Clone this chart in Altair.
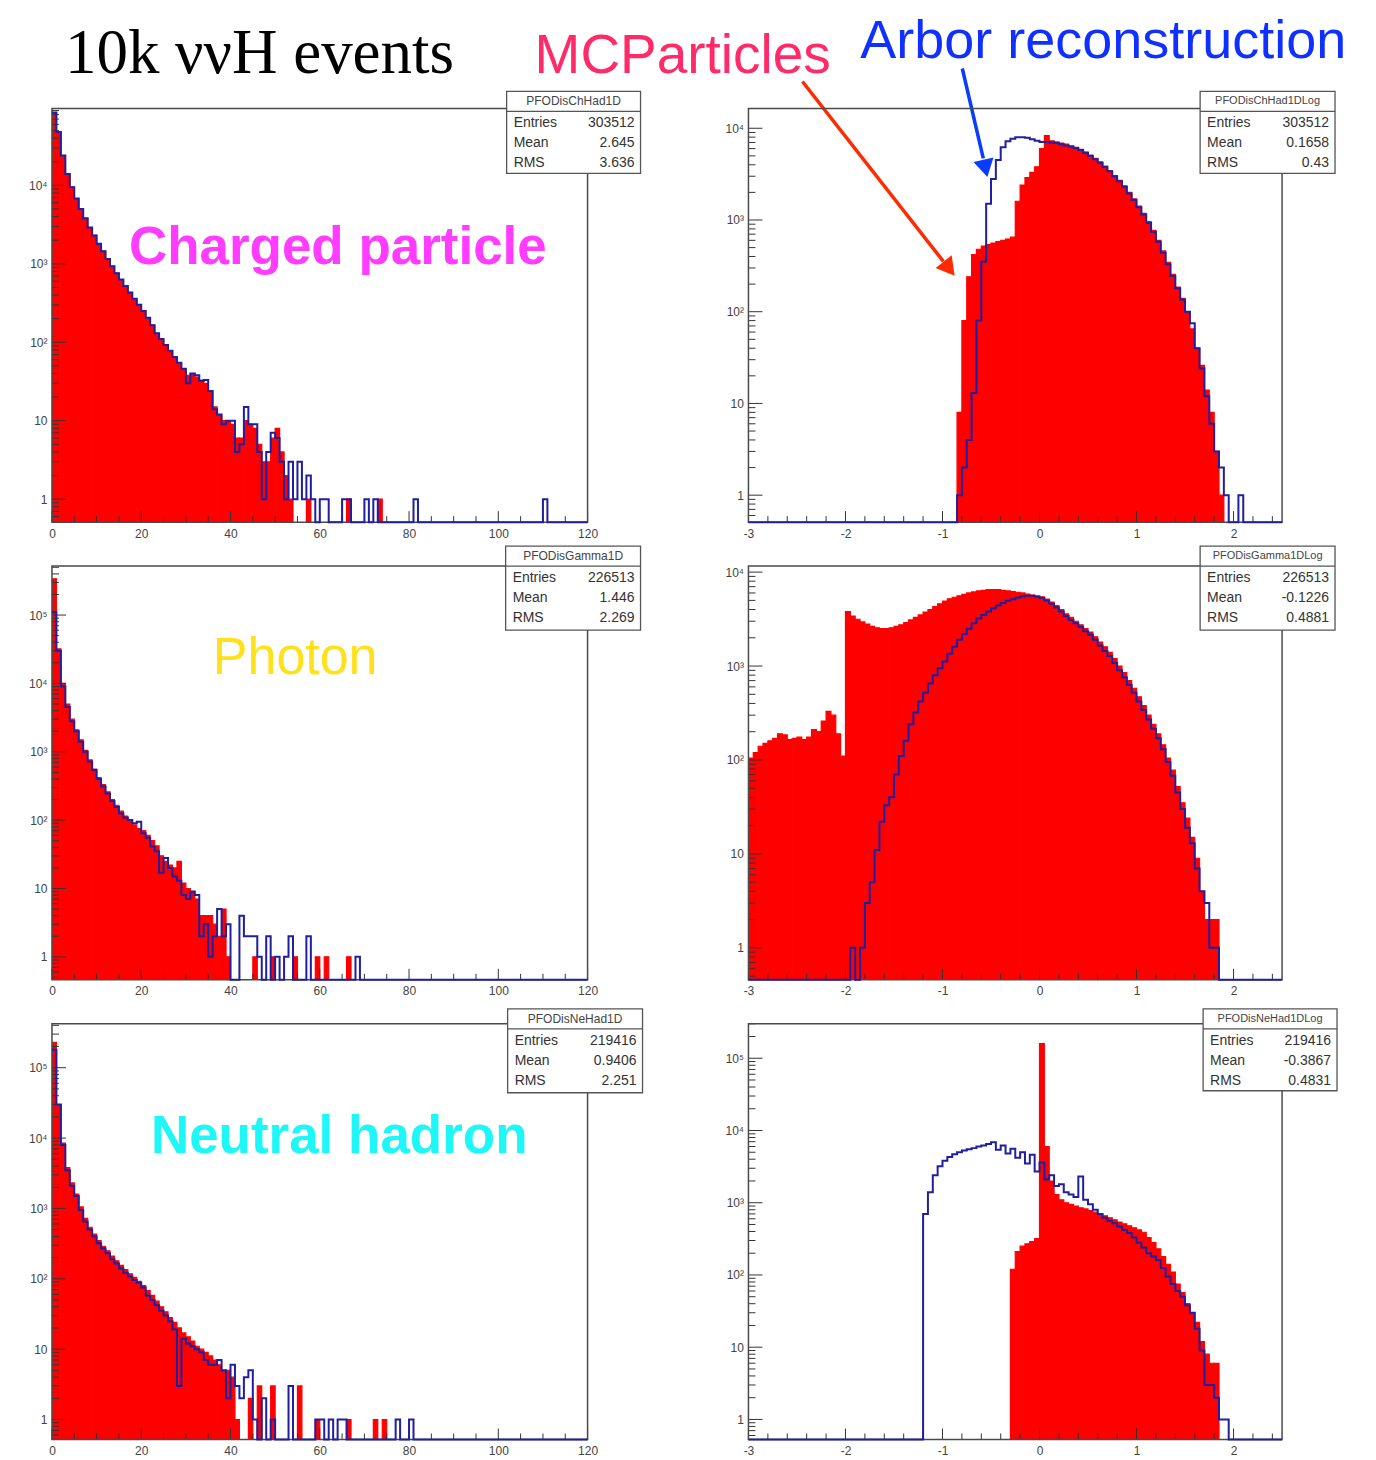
import altair as alt
import pandas as pd

# ---------------------------------------------------------------- data
# Linear-distance histograms: bin width 1, first bin starts at 0
lin_width = 1.0
log_width = 0.05

# Charged particle, linear (0..120)
ch_lin_reco = [85000, 48000, 24000, 14000, 9500, 6800, 5000, 3800, 2900, 2300,
               1800, 1450, 1150, 930, 760, 630, 520, 430, 360, 300,
               250, 205, 165, 130, 110, 92, 78, 65, 55, 46,
               30, 40, 38, 32, 33, 24, 14, 12, 9, 10,
               10, 4, 5, 15, 9, 9, 4, 1, 4, 7,
               6, 3, 1, 3, 1, 3, 1, 2, 1, 0,
               1, 1, 0, 0, 0, 1, 1, 0, 0, 0,
               1, 0, 1, 0, 0, 0, 0, 0, 0, 0,
               0, 1, 0, 0, 0, 0, 0, 0, 0, 0,
               0, 0, 0, 0, 0, 0, 0, 0, 0, 0,
               0, 0, 0, 0, 0, 0, 0, 0, 0, 0,
               1]
ch_lin_mc = [85000, 48000, 24000, 14000, 9500, 6800, 5000, 3800, 2900, 2300,
             1800, 1450, 1150, 930, 760, 630, 520, 430, 360, 300,
             250, 205, 165, 130, 110, 92, 78, 65, 55, 46,
             38, 40, 36, 33, 30, 24, 15, 12, 10, 10,
             9, 6, 6, 10, 9, 8, 5, 3, 3, 6,
             8, 4, 2, 1, 0, 0, 0, 1, 0, 0,
             0, 0, 0, 0, 0, 0, 1, 0, 0, 0,
             0, 0, 0, 1]

# Charged particle, log10 distance (first bin starts at -0.90)
ch_log_start = -0.90
ch_log_reco = [0, 1, 2, 4, 13, 80, 350, 1500, 2800, 4500,
               6200, 7200, 7700, 8000, 8000, 7900, 7600, 7300, 7100, 7100,
               7000, 6900, 6700, 6500, 6300, 6100, 5800, 5400, 5000, 4600,
               4200, 3800, 3400, 3000, 2650, 2300, 1950, 1650, 1380, 1150,
               930, 740, 580, 440, 330, 245, 180, 135, 100, 75,
               40, 24, 12, 6, 3, 2, 1, 0, 0, 1]
ch_log_mc = [0, 8, 80, 240, 420, 480, 520, 540, 560, 580,
             600, 620, 650, 1600, 2400, 2900, 3300, 3800, 6000, 8300,
             7300, 7100, 6900, 6700, 6450, 6200, 5900, 5500, 5100, 4700,
             4300, 3850, 3450, 3050, 2700, 2350, 2000, 1700, 1420, 1180,
             960, 770, 600, 460, 345, 255, 185, 140, 100, 65,
             40, 26, 14, 8, 3, 1, 0, 0, 0, 0]

# Photon, linear
ga_lin_reco = [110000, 30000, 9000, 4500, 2800, 2000, 1400, 1000, 720, 540,
               400, 310, 245, 190, 155, 125, 108, 100, 90, 95,
               64, 55, 41, 35, 17, 28, 20, 15, 13, 8,
               7, 9, 8, 2, 3, 1, 2, 5, 2, 3,
               0, 0, 4, 2, 2, 2, 1, 0, 2, 0,
               1, 0, 1, 2, 0, 0, 0, 2, 0, 0,
               0, 0, 0, 0, 0, 0, 0, 0, 1]
ga_lin_mc = [340000, 32000, 10000, 5000, 3000, 2100, 1500, 1050, 760, 560,
             420, 330, 260, 200, 165, 135, 115, 100, 85, 75,
             70, 60, 50, 42, 30, 25, 22, 20, 25, 12,
             10, 9, 7, 4, 4, 4, 3, 2, 5, 1,
             0, 0, 0, 0, 0, 1, 0, 0, 0, 1,
             0, 0, 0, 0, 1, 0, 0, 0, 0, 1,
             0, 1, 0, 0, 0, 0, 1]

# Photon, log10 distance
ga_log_mc_start = -3.00
ga_log_mc = [105, 120, 140, 150, 160, 170, 190, 185, 165, 170,
             175, 165, 175, 210, 200, 260, 330, 300, 190, 110,
             3800, 3400, 3150, 2950, 2800, 2650, 2550, 2500, 2500, 2550,
             2650, 2750, 2900, 3100, 3300, 3500, 3750, 4000, 4300, 4600,
             4900, 5200, 5400, 5600, 5800, 6000, 6150, 6300, 6400, 6500,
             6500, 6500, 6400, 6300, 6200, 6100, 6000, 5850, 5700, 5550,
             5450, 5150, 4800, 4400, 4000, 3600, 3300, 3000, 2750, 2500,
             2300, 2050, 1800, 1600, 1400, 1200, 1000, 850, 700, 580,
             470, 380, 300, 240, 190, 145, 105, 78, 52, 35,
             24, 15, 9, 4, 2, 2, 2]
ga_log_reco_start = -1.95
ga_log_reco = [1, 0, 1, 3, 5, 11, 22, 33, 40, 70,
               110, 160, 240, 320, 420, 520, 650, 800, 950, 1120,
               1350, 1600, 1900, 2200, 2500, 2850, 3200, 3500, 3800, 4100,
               4400, 4700, 4950, 5150, 5350, 5500, 5600, 5600, 5500,
               5300, 5000, 4600, 4200, 3800, 3400, 3100, 2850, 2600, 2350,
               2150, 1900, 1650, 1450, 1280, 1080, 900, 760, 630, 520,
               420, 340, 270, 215, 170, 130, 95, 68, 45, 30,
               19, 13, 7, 4, 3, 1, 1]

# Neutral hadron, linear
nh_lin_reco = [180000, 30000, 8000, 3500, 2100, 1500, 950, 650, 500, 400,
               320, 270, 230, 190, 165, 140, 122, 108, 96, 88,
               75, 58, 50, 42, 35, 30, 25, 19, 3, 14,
               12, 11, 10, 9, 7, 6, 6, 7, 5, 2,
               6, 3, 2, 4, 5, 1, 0, 2, 0, 1,
               0, 0, 0, 3, 0, 0, 0, 0, 0, 1,
               1, 0, 1, 0, 1, 1, 0, 0, 0, 0,
               0, 0, 0, 0, 0, 0, 0, 1, 0, 0,
               1]
nh_lin_mc = [230000, 30000, 8500, 3800, 2300, 1600, 1050, 720, 540, 430,
             350, 290, 250, 210, 180, 155, 135, 118, 105, 92,
             80, 68, 58, 48, 40, 34, 28, 24, 20, 17,
             15, 13, 11, 10, 9, 8, 7, 6, 5, 5,
             4, 1, 0, 0, 2, 0, 3, 0, 0, 3,
             0, 0, 0, 0, 0, 3, 0, 0, 0, 1,
             0, 0, 0, 0, 0, 0, 1, 0, 0, 0,
             0, 0, 1, 0, 1]

# Neutral hadron, log10 distance
nh_log_reco_start = -1.25
nh_log_reco = [0, 700, 1400, 2400, 3200, 3800, 4300, 4700, 5000, 5300,
               5500, 5700, 6000, 6200, 6500, 6900, 5400, 6200, 4800, 5600,
               4200, 5000, 3500, 4600, 2700, 3600, 2100, 2400, 1700, 1800,
               1400, 1300, 1200, 2300, 1100, 950, 800, 700, 620, 560,
               520, 470, 420, 380, 330, 280, 240, 200, 180, 160,
               125, 95, 75, 60, 50, 38, 30, 18, 9, 3,
               3, 2, 1, 1]
nh_log_mc_start = -0.35
nh_log_mc = [0, 120, 210, 250, 270, 290, 320, 160000, 6000, 2000,
             1300, 1100, 1000, 950, 900, 850, 820, 780, 740, 700,
             660, 620, 580, 540, 510, 480, 450, 420, 390, 330,
             280, 230, 180, 140, 110, 75, 57, 40, 30, 22,
             12, 8, 6, 6]

# Stats boxes
stat_names = ["PFODisChHad1D", "PFODisChHad1DLog", "PFODisGamma1D",
              "PFODisGamma1DLog", "PFODisNeHad1D", "PFODisNeHad1DLog"]
stat_entries = ["303512", "303512", "226513", "226513", "219416", "219416"]
stat_mean = ["2.645", "0.1658", "1.446", "-0.1226", "0.9406", "-0.3867"]
stat_rms = ["3.636", "0.43", "2.269", "0.4881", "2.251", "0.4831"]

lin_xlabels = [0, 20, 40, 60, 80, 100, 120]
log_xlabels = [-3, -2, -1, 0, 1, 2]

# ---------------------------------------------------------------- style
RED = "#ff0000"
BLUE = "#1f1fa0"
TICK = "#333333"
FRAME = "#4a4a4a"
SANS = "Liberation Sans, Arial, sans-serif"
SERIF = "Liberation Serif, Times New Roman, serif"
ONE = pd.DataFrame({"k": [0]})


def pad_counts(start, width, counts, lo, hi):
    n_pre = int(round((start - lo) / width))
    vals = [0] * n_pre + list(counts)
    n_tot = int(round((hi - lo) / width))
    return vals + [0] * (n_tot - len(vals))


def step_table(start, width, counts, lo, hi, floor):
    vals = pad_counts(start, width, counts, lo, hi)
    xs = [round(lo + i * width, 6) for i in range(len(vals) + 1)]
    ys = [max(v, floor) for v in vals] + [max(vals[-1], floor)]
    return pd.DataFrame({"x": xs, "y": ys})


def bar_table(start, width, counts):
    rows = [(round(start + i * width, 6), round(start + (i + 1) * width, 6), c)
            for i, c in enumerate(counts) if c > 0]
    return pd.DataFrame(rows, columns=["x0", "x1", "y"])


def txt(x, y, s, **kw):
    return alt.Chart(ONE).mark_text(**kw).encode(
        x=alt.value(x), y=alt.value(y), text=alt.value(s))


YEXPR = ("datum.value == 1 ? '1' : datum.value == 10 ? '10' : "
         "datum.value == 100 ? '10\u00b2' : datum.value == 1000 ? '10\u00b3' : "
         "datum.value == 10000 ? '10\u2074' : datum.value == 100000 ? '10\u2075' : ''")


def panel(p, idx, extra):
    W, H = p["w"], p["h"]
    x0, x1 = p["xdom"]
    y0, y1 = p["ydom"]
    xsc = alt.Scale(domain=[x0, x1], nice=False, zero=False)
    ysc = alt.Scale(type="log", domain=[y0, y1], nice=False)
    xax = alt.Axis(values=p["xlab"], labelExpr="datum.value + ''", domain=False,
                   ticks=False, grid=False, labelPadding=6, labelFlush=False,
                   labelOverlap=False, labelFont=SANS, labelFontSize=12,
                   labelColor="#444", title=None)
    ymaj = [10 ** k for k in range(0, 7) if y0 <= 10 ** k <= y1]
    yax = alt.Axis(values=ymaj, labelExpr=YEXPR, domain=False, ticks=False,
                   grid=False, labelPadding=5, labelOverlap=False,
                   labelFont=SANS, labelFontSize=12, labelColor="#444", title=None)

    mc = bar_table(p["mc_start"], p["bw"], p["mc"])
    reco = step_table(p["reco_start"], p["bw"], p["reco"], x0, x1, y0)

    red = alt.Chart(mc).mark_rect(color=RED, stroke=RED, strokeWidth=1.2,
                                  clip=True).encode(
        x=alt.X("x0:Q", scale=xsc, axis=xax),
        x2="x1:Q",
        y=alt.Y("y:Q", scale=ysc, axis=yax),
        y2=alt.value(H))
    blue = alt.Chart(reco).mark_line(interpolate="step-after", color=BLUE,
                                     strokeWidth=2).encode(
        x=alt.X("x:Q", scale=xsc, axis=xax),
        y=alt.Y("y:Q", scale=ysc, axis=yax))

    # ticks (inward, ROOT style)
    xmaj = list(p["xlab"])
    xmin = list(p["xminor"])
    ymin = [m * 10 ** k for k in range(-1, 6) for m in range(2, 10)
            if y0 <= m * 10 ** k <= y1]
    t_xmaj = alt.Chart(pd.DataFrame({"t": xmaj})).mark_rule(color=TICK).encode(
        x=alt.X("t:Q", scale=xsc, axis=xax), y=alt.value(H), y2=alt.value(H - 11))
    t_xmin = alt.Chart(pd.DataFrame({"t": xmin})).mark_rule(color=TICK).encode(
        x=alt.X("t:Q", scale=xsc, axis=xax), y=alt.value(H), y2=alt.value(H - 6))
    t_ymaj = alt.Chart(pd.DataFrame({"t": ymaj})).mark_rule(color=TICK).encode(
        y=alt.Y("t:Q", scale=ysc, axis=yax), x=alt.value(0), x2=alt.value(14))
    t_ymin = alt.Chart(pd.DataFrame({"t": ymin})).mark_rule(color=TICK).encode(
        y=alt.Y("t:Q", scale=ysc, axis=yax), x=alt.value(0), x2=alt.value(7))

    frame = alt.Chart(ONE).mark_rect(fill="white", fillOpacity=0, stroke=FRAME,
                                     strokeWidth=1.5).encode(
        x=alt.value(0), x2=alt.value(W), y=alt.value(0), y2=alt.value(H))

    bx0, bx1, by0, by1 = p["box"]
    box = alt.Chart(ONE).mark_rect(fill="white", stroke="#555", strokeWidth=1.3).encode(
        x=alt.value(bx0), x2=alt.value(bx1), y=alt.value(by0), y2=alt.value(by1))
    sep = alt.Chart(ONE).mark_rule(color="#555", strokeWidth=1.3).encode(
        x=alt.value(bx0), x2=alt.value(bx1), y=alt.value(by0 + 20))
    st = [
        txt((bx0 + bx1) / 2, by0 + 10, stat_names[idx], font=SANS,
            fontSize=p["tfs"], color="#444", baseline="middle", align="center"),
    ]
    for j, (lab, val) in enumerate([("Entries", stat_entries[idx]),
                                    ("Mean", stat_mean[idx]),
                                    ("RMS", stat_rms[idx])]):
        yy = by0 + 32 + j * 20
        st.append(txt(bx0 + 7, yy, lab, font=SANS, fontSize=14, color="#333",
                      baseline="middle", align="left"))
        st.append(txt(bx1 - 6, yy, val, font=SANS, fontSize=14, color="#333",
                      baseline="middle", align="right"))

    layers = [red, t_xmaj, t_xmin, t_ymaj, t_ymin, frame, blue, box, sep] + st + extra
    return alt.layer(*layers).properties(width=W, height=H)


LW, RW = 536, 534
H1, H2, H3 = 414, 414, 416
lin_minor = [v for v in range(0, 121, 5) if v % 20 != 0]
log_minor = [round(-3 + 0.2 * i, 2) for i in range(28)
             if abs(round(-3 + 0.2 * i, 2) - round(-3 + 0.2 * i)) > 1e-6]

panels_cfg = [
    dict(w=LW, h=H1, xdom=[0, 120], ydom=[0.509, 95700], xlab=lin_xlabels,
         xminor=lin_minor, bw=lin_width, mc_start=0, mc=ch_lin_mc,
         reco_start=0, reco=ch_lin_reco, box=[455, 589, -17, 65], tfs=12),
    dict(w=RW, h=H1, xdom=[-3, 2.5], ydom=[0.508, 16440], xlab=log_xlabels,
         xminor=log_minor, bw=log_width, mc_start=ch_log_start, mc=ch_log_mc,
         reco_start=ch_log_start, reco=ch_log_reco, box=[452, 587, -17, 65], tfs=11),
    dict(w=LW, h=H2, xdom=[0, 120], ydom=[0.461, 520000], xlab=lin_xlabels,
         xminor=lin_minor, bw=lin_width, mc_start=0, mc=ga_lin_mc,
         reco_start=0, reco=ga_lin_reco, box=[454, 589, -20, 64], tfs=12),
    dict(w=RW, h=H2, xdom=[-3, 2.5], ydom=[0.457, 11580], xlab=log_xlabels,
         xminor=log_minor, bw=log_width, mc_start=ga_log_mc_start, mc=ga_log_mc,
         reco_start=ga_log_reco_start, reco=ga_log_reco, box=[452, 587, -20, 64], tfs=11),
    dict(w=LW, h=H3, xdom=[0, 120], ydom=[0.52, 421000], xlab=lin_xlabels,
         xminor=lin_minor, bw=lin_width, mc_start=0, mc=nh_lin_mc,
         reco_start=0, reco=nh_lin_reco, box=[456, 591, -15, 69], tfs=12),
    dict(w=RW, h=H3, xdom=[-3, 2.5], ydom=[0.528, 300000], xlab=log_xlabels,
         xminor=log_minor, bw=log_width, mc_start=nh_log_mc_start, mc=nh_log_mc,
         reco_start=nh_log_reco_start, reco=nh_log_reco, box=[455, 589, -15, 67], tfs=11),
]

# annotations (pixel offsets relative to the top-left plot frame)
anchor_tl = alt.Chart(ONE).mark_point(opacity=0, size=1).encode(
    x=alt.value(-43), y=alt.value(-99))
anchor_br = alt.Chart(ONE).mark_point(opacity=0, size=1).encode(
    x=alt.value(1316), y=alt.value(-60))
ann1 = [
    anchor_tl, anchor_br,
    txt(13, -35, "10k \u03bd\u03bdH events", font=SERIF, fontSize=63, color="black",
        align="left", baseline="alphabetic"),
    txt(483, -35, "MCParticles", font=SANS, fontSize=55, color="#ff2a68",
        align="left", baseline="alphabetic"),
    txt(809, -50, "Arbor reconstruction", font=SANS, fontSize=54, color="#1030ff",
        align="left", baseline="alphabetic"),
    txt(77, 156, "Charged particle", font=SANS, fontSize=53, fontWeight="bold",
        color="#ff3cff", align="left", baseline="alphabetic"),
    alt.Chart(ONE).mark_rule(color="#ff2a00", strokeWidth=3.5).encode(
        x=alt.value(751), y=alt.value(-27), x2=alt.value(892), y2=alt.value(153)),
    alt.Chart(ONE).mark_point(shape="triangle", angle=141.9, filled=True, size=420,
                              color="#ff2a00", opacity=1).encode(
        x=alt.value(896), y=alt.value(158)),
    alt.Chart(ONE).mark_rule(color="#0a3cff", strokeWidth=3.5).encode(
        x=alt.value(911), y=alt.value(-40), x2=alt.value(932), y2=alt.value(50)),
    alt.Chart(ONE).mark_point(shape="triangle", angle=167.2, filled=True, size=420,
                              color="#0a3cff", opacity=1).encode(
        x=alt.value(933.5), y=alt.value(57)),
]
ann3 = [txt(161, 108, "Photon", font=SANS, fontSize=52, color="#ffe11a",
            align="left", baseline="alphabetic")]
ann5 = [txt(99, 129, "Neutral hadron", font=SANS, fontSize=53, fontWeight="bold",
            color="#1ef7f7", align="left", baseline="alphabetic")]
extras = [ann1, [], ann3, [], ann5, []]

panels = [panel(p, i, extras[i]) for i, p in enumerate(panels_cfg)]

chart = alt.concat(*panels, columns=2, spacing={"row": 44, "column": 161},
                   bounds="flush", align="each").properties(
    padding=0).configure_view(strokeOpacity=0)

chart.save("out.html", embed_options={"renderer": "svg", "actions": False})
